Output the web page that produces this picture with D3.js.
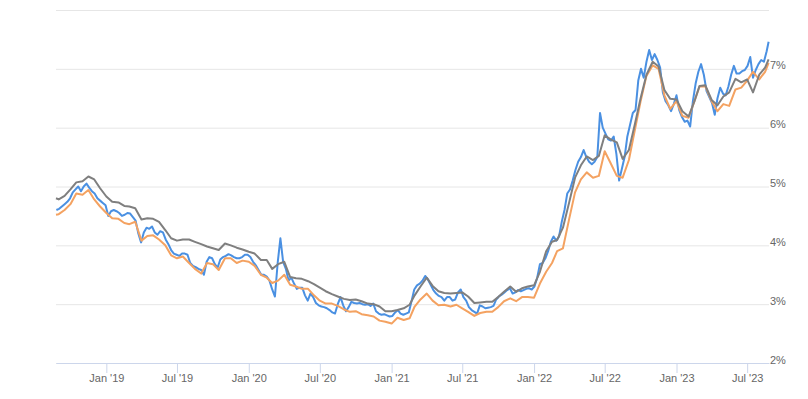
<!DOCTYPE html>
<html>
<head>
<meta charset="utf-8">
<script src="https://cdn.jsdelivr.net/npm/d3@7"></script>
<style>
  body { margin: 0; background: #fff; }
  svg { display: block; font-family: "Liberation Sans", Arial, sans-serif; }
</style>
</head>
<body>
<svg width="808" height="399"></svg>
<script>
// daily rate (blue), sampled weekly
const blueRates = [
  // 2018
  4.60, 4.62, 4.66, 4.70, 4.74, 4.80, 4.90, 4.95, 5.00, 4.92, 5.00, 5.05, 4.98, 4.92, 4.88, 4.80, 4.76, 4.72, 4.68,
  // 2019
  4.50, 4.58, 4.60, 4.58, 4.55, 4.50, 4.52, 4.55, 4.54, 4.48, 4.42, 4.20, 4.05,
  4.22, 4.30, 4.28, 4.32, 4.22, 4.18, 4.24, 4.22, 4.10, 4.02, 3.92, 3.86, 3.84,
  3.82, 3.86, 3.86, 3.84, 3.70, 3.65, 3.63, 3.60, 3.58, 3.50, 3.72, 3.80, 3.78,
  3.68, 3.62, 3.76, 3.80, 3.82, 3.85, 3.83, 3.80, 3.78, 3.78, 3.80, 3.84, 3.84,
  // 2020
  3.80, 3.72, 3.66, 3.58, 3.50, 3.50, 3.47, 3.40, 3.25, 3.13, 3.70, 4.12, 3.72,
  3.60, 3.40, 3.45, 3.35, 3.26, 3.28, 3.28, 3.15, 3.06, 3.18, 3.12, 3.02, 2.98,
  2.96, 2.95, 2.93, 2.90, 2.86, 2.84, 3.00, 3.12, 2.98, 2.88, 2.95, 3.04, 3.02,
  3.01, 3.02, 3.00, 2.99, 3.00, 2.97, 3.01, 2.88, 2.84, 2.82, 2.83, 2.81, 2.79,
  // 2021
  2.80, 2.86, 2.90, 2.84, 2.82, 2.84, 2.86, 3.05, 3.25, 3.32, 3.35, 3.40, 3.48,
  3.42, 3.33, 3.24, 3.18, 3.14, 3.12, 3.06, 3.12, 3.12, 3.06, 3.08, 3.20, 3.25,
  3.12, 3.06, 2.95, 2.90, 2.87, 2.84, 2.98, 2.96, 2.93, 2.94, 2.95, 2.97, 3.08,
  3.13, 3.16, 3.20, 3.24, 3.27, 3.18, 3.20, 3.24, 3.22, 3.24, 3.26, 3.27, 3.25,
  // 2022
  3.30, 3.45, 3.68, 3.70, 3.78, 3.90, 4.06, 4.15, 4.08, 4.15, 4.40, 4.60, 4.88,
  4.95, 5.10, 5.28, 5.42, 5.50, 5.62, 5.50, 5.42, 5.38, 5.42, 5.50, 6.25, 6.00,
  5.90, 5.80, 5.78, 5.85, 5.55, 5.10, 5.30, 5.50, 5.85, 6.05, 6.25, 6.30, 6.80,
  7.00, 6.85, 7.12, 7.32, 7.15, 7.25, 7.15, 7.02, 6.60, 6.45, 6.38, 6.28, 6.40,
  // 2023
  6.55, 6.30, 6.18, 6.10, 6.12, 6.02, 6.45, 6.75, 6.95, 7.08, 6.90, 6.62, 6.52,
  6.42, 6.22, 6.50, 6.68, 6.58, 6.55, 6.70, 6.90, 7.05, 6.92, 6.92, 6.96, 6.98,
  7.05, 7.20, 6.85, 6.98, 7.08, 7.15, 7.12, 7.30, 7.46
];

// weekly survey (orange), twice a month
const orangeRates = [
  4.52, 4.53, 4.60, 4.70, 4.88, 4.86, 4.94, 4.78, 4.66,
  4.55, 4.46, 4.45, 4.38, 4.36, 4.40, 4.08, 4.16, 4.17, 4.10, 4.00, 3.83,
  3.78, 3.81, 3.70, 3.60, 3.52, 3.70, 3.68, 3.58, 3.78, 3.78, 3.70, 3.74,
  3.72, 3.65, 3.50, 3.45, 3.36, 3.40, 3.50, 3.33, 3.30, 3.26, 3.26, 3.15,
  3.06, 3.01, 3.01, 2.97, 2.91, 2.87, 2.88, 2.83, 2.81, 2.79, 2.72, 2.70,
  2.67, 2.77, 2.73, 2.76, 2.96, 3.08, 3.18, 3.06, 2.98, 2.99, 2.96, 2.99,
  2.93, 2.87, 2.80, 2.85, 2.87, 2.87, 2.95, 3.05, 3.10, 3.05, 3.12, 3.12,
  3.11, 3.35, 3.55, 3.70, 3.90, 3.95, 4.45, 4.90, 5.12, 5.24, 5.15, 5.18,
  5.60, 5.40, 5.18, 5.15, 5.45, 5.95, 6.45, 6.88, 7.06, 7.00, 6.55, 6.32,
  6.45, 6.20, 6.17, 6.45, 6.70, 6.70, 6.45, 6.28, 6.40, 6.37, 6.65, 6.68,
  6.80, 6.95, 6.82, 6.95, 7.10
];

// weekly index (gray), twice a month
const grayRates = [
  4.80, 4.78, 4.84, 4.95, 5.07, 5.09, 5.17, 5.12, 4.97,
  4.83, 4.74, 4.73, 4.67, 4.66, 4.63, 4.44, 4.46, 4.45, 4.40, 4.26, 4.12,
  4.08, 4.10, 4.10, 4.06, 4.02, 3.98, 3.95, 3.92, 4.03, 4.00, 3.96, 3.93,
  3.89, 3.86, 3.75, 3.75, 3.60, 3.68, 3.72, 3.46, 3.44, 3.43, 3.39, 3.34,
  3.28, 3.22, 3.17, 3.13, 3.09, 3.07, 3.08, 3.05, 3.01, 3.00, 2.96, 2.88,
  2.88, 2.90, 2.93, 2.99, 3.15, 3.30, 3.45, 3.31, 3.22, 3.19, 3.18, 3.19,
  3.20, 3.13, 3.02, 3.03, 3.04, 3.04, 3.12, 3.21, 3.30, 3.21, 3.27, 3.30,
  3.32, 3.55, 3.90, 4.06, 4.09, 4.30, 4.73, 5.15, 5.36, 5.51, 5.45, 5.52,
  5.87, 5.80, 5.75, 5.47, 5.62, 6.05, 6.50, 6.90, 7.12, 7.04, 6.64, 6.49,
  6.48, 6.28, 6.19, 6.45, 6.71, 6.72, 6.47, 6.38, 6.53, 6.60, 6.83, 6.77,
  6.82, 6.60, 6.90, 7.02, 7.16
];

const xTicks = ['2019-01-01', '2019-07-01', '2020-01-01', '2020-07-01', '2021-01-01',
                '2021-07-01', '2022-01-01', '2022-07-01', '2023-01-01', '2023-07-01'];
const yTicks = [2, 3, 4, 5, 6, 7, 8];

// dates for each series
const weeklyDates = d3.timeWeek.range(new Date(2018, 7, 26), new Date(2023, 7, 21));
weeklyDates.push(new Date(2023, 7, 25));

const semiDates = [new Date(2018, 7, 25)];
d3.timeMonth.range(new Date(2018, 8, 1), new Date(2023, 8, 1)).forEach(m => {
    semiDates.push(m, d3.timeDay.offset(m, 15));
});
semiDates.length = 121;
semiDates.push(new Date(2023, 7, 25));

const plotLeft = 56, plotRight = 769, plotTop = 10, plotBottom = 363;

let svg = d3.select('svg');

let x = d3.scaleTime()
    .domain([new Date(2018, 7, 25), new Date(2023, 7, 26)])
    .range([plotLeft, plotRight]);
let y = d3.scaleLinear()
    .domain([2, 8])
    .range([plotBottom, plotTop]);

// y grid + labels on the right
let yAxis = svg.append('g')
    .attr('transform', `translate(${plotRight},0)`)
    .call(d3.axisRight(y)
        .tickValues(yTicks)
        .tickSize(-(plotRight - plotLeft))
        .tickPadding(1)
        .tickFormat(d => d === 8 ? '' : d + '%'));
yAxis.select('.domain').remove();
yAxis.selectAll('line').attr('stroke', '#e6e6e6');
yAxis.selectAll('text')
    .attr('dy', 0)
    .attr('fill', '#666')
    .style('font-size', '11px');

// x axis
let xAxis = svg.append('g')
    .attr('transform', `translate(0,${plotBottom})`)
    .call(d3.axisBottom(x)
        .tickValues(xTicks.map(d => d3.timeParse('%Y-%m-%d')(d)))
        .tickSize(10)
        .tickSizeOuter(0)
        .tickPadding(1)
        .tickFormat(d3.timeFormat("%b '%y")));
xAxis.select('.domain').attr('stroke', '#ccd6eb');
xAxis.selectAll('line').attr('stroke', '#ccd6eb');
xAxis.selectAll('text')
    .attr('fill', '#666')
    .style('font-size', '11px');

function plotLine(dates, values, color) {
    let pts = values.map((v, i) => [dates[i], v]).filter(p => p[0]);
    svg.append('path')
        .datum(pts)
        .attr('fill', 'none')
        .attr('stroke', color)
        .attr('stroke-width', 2)
        .attr('stroke-linejoin', 'round')
        .attr('d', d3.line()
            .x(p => x(p[0]))
            .y(p => y(p[1])));
}

plotLine(weeklyDates, blueRates, '#4a90e2');
plotLine(semiDates, orangeRates, '#f4a261');
plotLine(semiDates, grayRates, '#7f7f7f');
</script>
</body>
</html>
